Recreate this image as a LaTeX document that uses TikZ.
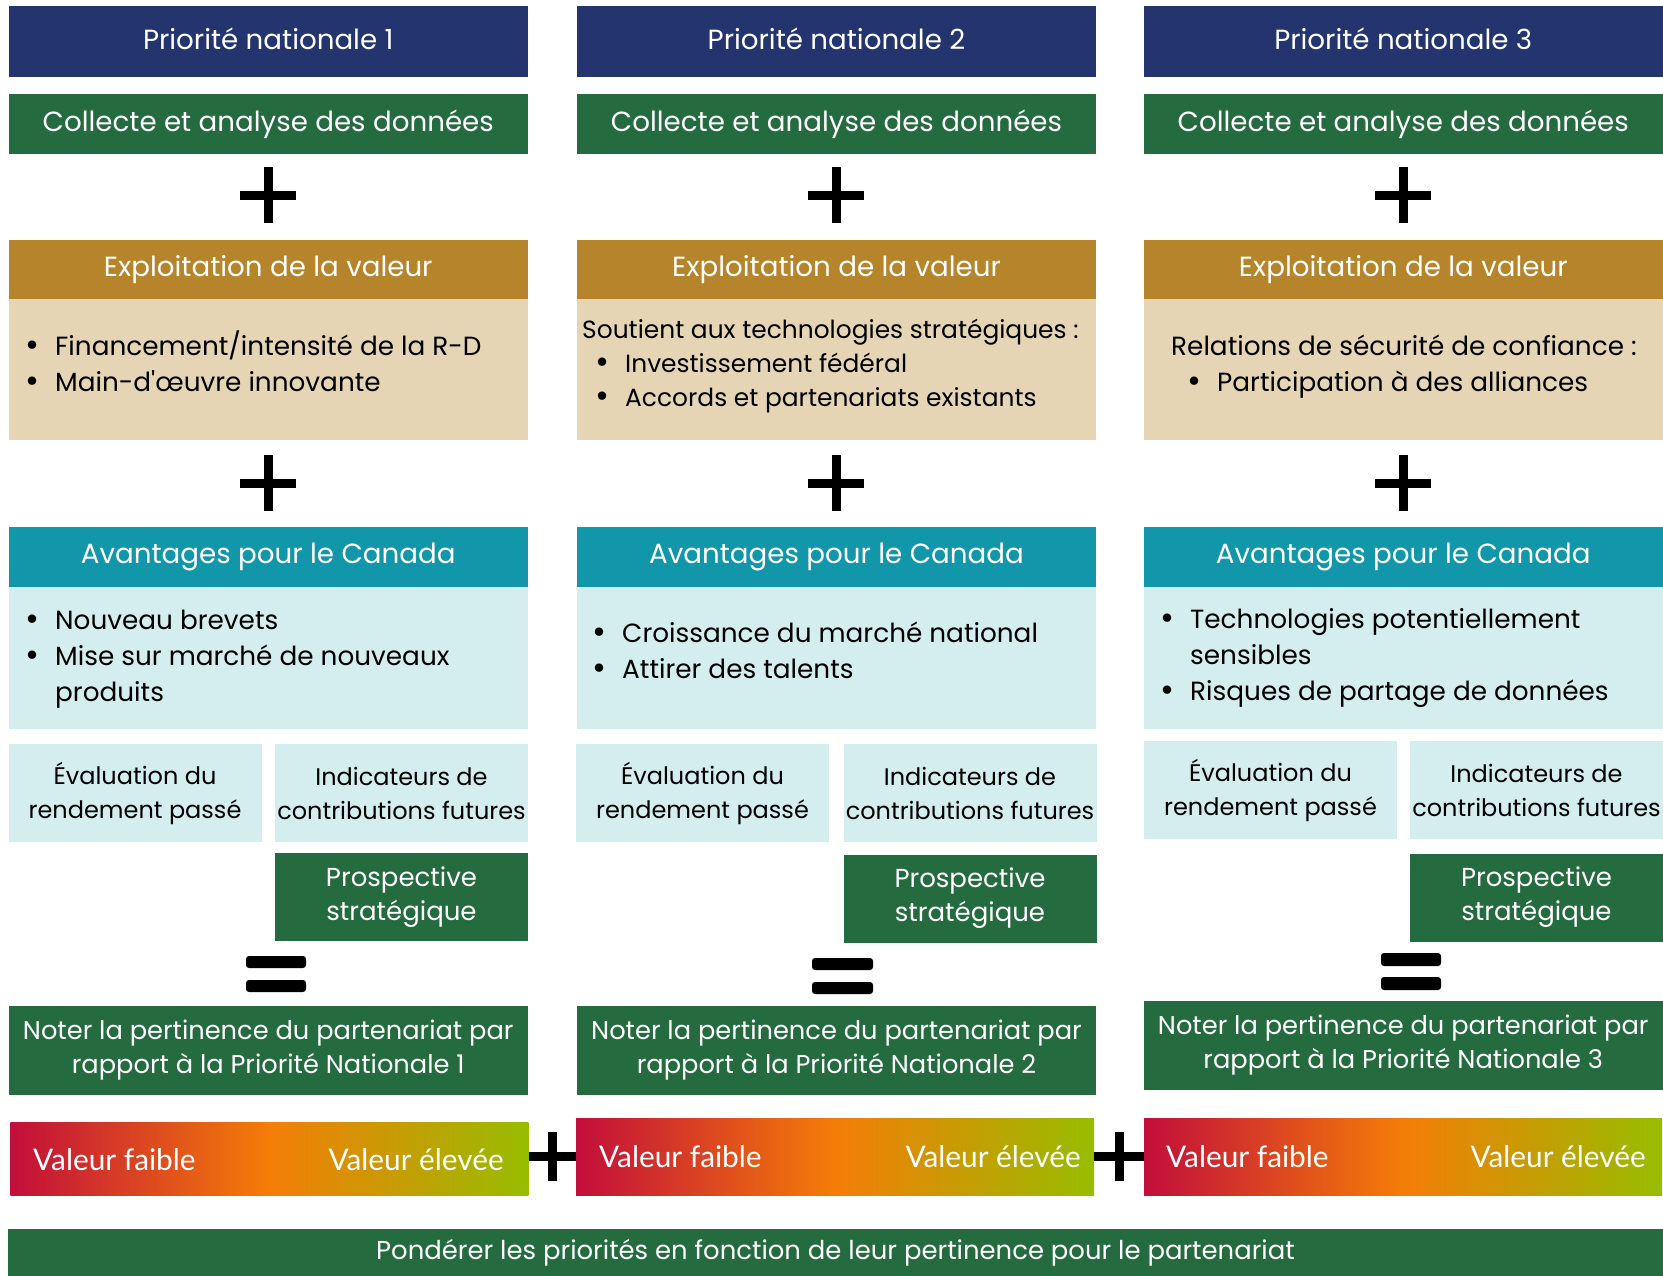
\documentclass[tikz,border=0pt]{standalone}
\usepackage{fontspec}
\setmainfont{Poppins}
\newfontfamily\barfont{Lato}

\definecolor{navy}{HTML}{24346E}
\definecolor{forest}{HTML}{256B40}
\definecolor{gold}{HTML}{B5842B}
\definecolor{sand}{HTML}{E5D5B5}
\definecolor{tealhd}{HTML}{1197A9}
\definecolor{ice}{HTML}{D4EDEE}
\definecolor{crimson}{HTML}{C20E3B}
\definecolor{amber}{HTML}{F47D07}
\definecolor{limeg}{HTML}{97BD00}

\newcommand{\bul}{\llap{\raisebox{-1pt}{\fontsize{34}{34}\selectfont\textbullet}\hspace{16pt}}}

\begin{document}
\begin{tikzpicture}[x=1pt, y=-1pt,
  cell/.style={rectangle, inner sep=0pt, minimum width=519.5pt},
  hd/.style={cell, text=white, font=\fontsize{27.7}{33}\selectfont},
  prio/.style={hd, fill=navy, minimum height=71pt, text height=21pt, text depth=6pt},
  coll/.style={hd, fill=forest, minimum height=60pt},
  exhd/.style={hd, fill=gold, minimum height=59pt},
  exbody/.style={cell, fill=sand, minimum height=141pt},
  avhd/.style={hd, fill=tealhd, minimum height=60pt},
  avbody/.style={cell, fill=ice, minimum height=142pt},
  lst/.style={anchor=west, align=left, inner sep=0pt, font=\fontsize{26.3}{36}\selectfont},
  minibox/.style={rectangle, inner sep=0pt, fill=ice, minimum width=253pt, minimum height=98pt, align=center, font=\fontsize{24}{34}\selectfont},
  prosp/.style={minibox, fill=forest, text=white, minimum height=88pt, font=\fontsize{26}{34}\selectfont},
  noter/.style={hd, fill=forest, minimum height=89pt, align=center, font=\fontsize{25.7}{34}\selectfont},
  scalebar/.style={rectangle, inner sep=0pt, minimum width=518pt, minimum height=77pt, left color=crimson, right color=limeg, middle color=amber},
  barlbl/.style={inner sep=0pt, text=white, font=\barfont\fontsize{29.8}{30}\selectfont},
  sign/.style={line width=9pt}]
\useasboundingbox (0,0) rectangle (1663,1275);

\node[prio] (p1) at (268.25,41.5) {Priorité nationale 1};
\node[coll] (c1) at (268.25,124) {Collecte et analyse des données};
\node[exhd] (eh1) at (268.25,269.5) {Exploitation de la valeur};
\node[exbody] (eb1) at (268.25,369.5) {};
\node[lst] (el1) at (55,362) {\bul Financement/intensité de la R-D\\\bul Main-d\textquotesingle œuvre innovante};
\node[avhd] (ah1) at (268.25,557) {Avantages pour le Canada};
\node[avbody] (ab1) at (268.25,658) {};
\node[lst] (al1) at (55,659.5) {\bul Nouveau brevets\\\bul Mise sur marché de nouveaux\\produits};
\node[minibox] (ev1) at (135,793) {Évaluation du\\rendement passé};
\node[minibox] (in1) at (401.5,793) {Indicateurs de\\contributions futures};
\node[prosp] (ps1) at (401.5,897) {Prospective\\stratégique};
\node[noter] (nt1) at (268.25,1050.5) {Noter la pertinence du partenariat par\\rapport à la Priorité Nationale 1};
\node[scalebar, minimum height=73pt] (sb1) at (269.3,1158.5) {};
\node[barlbl, anchor=west] (lo1) at (33,1160) {Valeur faible};
\node[barlbl, anchor=east] (hi1) at (504,1160) {Valeur élevée};

\node[prio] (p2) at (836.5,41.5) {Priorité nationale 2};
\node[coll] (c2) at (836.5,124) {Collecte et analyse des données};
\node[exhd] (eh2) at (836.5,269.5) {Exploitation de la valeur};
\node[exbody] (eb2) at (836.5,369.5) {};
\node[lst, font=\fontsize{24.9}{34}\selectfont] (el2) at (582,366) {Soutient aux technologies stratégiques :\\\hspace*{43pt}\bul Investissement fédéral\\\hspace*{43pt}\bul Accords et partenariats existants};
\node[avhd] (ah2) at (836.5,557) {Avantages pour le Canada};
\node[avbody] (ab2) at (836.5,658) {};
\node[lst] (al2) at (622,651) {\bul Croissance du marché national\\\bul Attirer des talents};
\node[minibox] (ev2) at (702.5,793) {Évaluation du\\rendement passé};
\node[minibox] (in2) at (970,793) {Indicateurs de\\contributions futures};
\node[prosp] (ps2) at (970,898.5) {Prospective\\stratégique};
\node[noter] (nt2) at (836.5,1050) {Noter la pertinence du partenariat par\\rapport à la Priorité Nationale 2};
\node[scalebar] (sb2) at (835,1156.5) {};
\node[barlbl, anchor=west] (lo2) at (599,1157) {Valeur faible};
\node[barlbl, anchor=east] (hi2) at (1081,1157) {Valeur élevée};

\node[prio] (p3) at (1403.25,41.5) {Priorité nationale 3};
\node[coll] (c3) at (1403.25,124) {Collecte et analyse des données};
\node[exhd] (eh3) at (1403.25,269.5) {Exploitation de la valeur};
\node[exbody] (eb3) at (1403.25,369.5) {};
\node[lst] (el3) at (1171,367) {Relations de sécurité de confiance :\\\hspace*{46pt}\bul Participation à des alliances};
\node[avhd] (ah3) at (1403.25,557) {Avantages pour le Canada};
\node[avbody] (ab3) at (1403.25,658) {};
\node[lst] (al3) at (1190,658) {\bul Technologies potentiellement\\sensibles\\\bul Risques de partage de données};
\node[minibox] (ev3) at (1270.5,790) {Évaluation du\\rendement passé};
\node[minibox] (in3) at (1536.5,790) {Indicateurs de\\contributions futures};
\node[prosp] (ps3) at (1536.5,897.5) {Prospective\\stratégique};
\node[noter] (nt3) at (1403.25,1045.5) {Noter la pertinence du partenariat par\\rapport à la Priorité Nationale 3};
\node[scalebar] (sb3) at (1403,1156.5) {};
\node[barlbl, anchor=west] (lo3) at (1166,1157) {Valeur faible};
\node[barlbl, anchor=east] (hi3) at (1646,1157) {Valeur élevée};

\node[hd, fill=forest, minimum width=1655pt, minimum height=48pt, font=\fontsize{25.9}{30}\selectfont] (pd) at (835.5,1253) {Pondérer les priorités en fonction de leur pertinence pour le partenariat};

\draw[sign] (240,195) -- (296,195) (268,167) -- (268,223);
\draw[sign] (808,195) -- (864,195) (836,167) -- (836,223);
\draw[sign] (1375,195) -- (1431,195) (1403,167) -- (1403,223);
\draw[sign] (240,483) -- (296,483) (268,455) -- (268,511);
\draw[sign] (808,483) -- (864,483) (836,455) -- (836,511);
\draw[sign] (1375,483) -- (1431,483) (1403,455) -- (1403,511);

\draw[sign] (sb1.east |- sb2.west) -- (sb2.west) (552,1132) -- (552,1181);
\draw[sign] (sb2.east) -- (sb3.west) (1119,1132) -- (1119,1181);

\fill[rounded corners=3pt] (246,956) rectangle (306,968) (246,980) rectangle (306,992);
\fill[rounded corners=3pt] (812,958) rectangle (873,970) (812,982) rectangle (873,994);
\fill[rounded corners=3pt] (1381,953) rectangle (1441,966) (1381,977) rectangle (1441,990);
\end{tikzpicture}
\end{document}
